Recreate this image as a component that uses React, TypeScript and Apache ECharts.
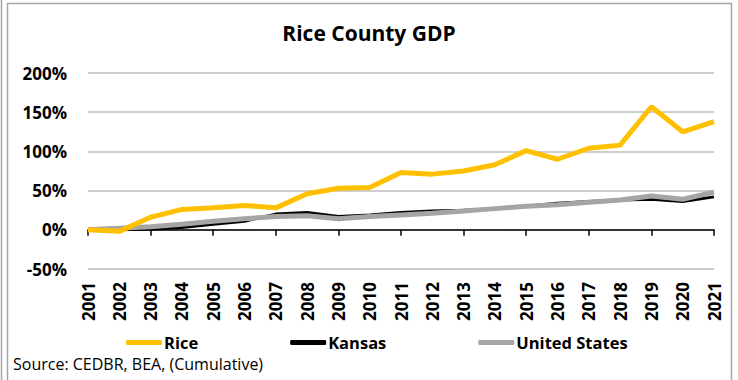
import React, { useEffect, useRef } from "react";
import * as echarts from "echarts";

const years = ["2001","2002","2003","2004","2005","2006","2007","2008","2009","2010","2011","2012","2013","2014","2015","2016","2017","2018","2019","2020","2021"];
const rice = [0, -2, 16, 26, 28, 31, 28, 46, 53, 54, 73, 71, 75, 83, 101, 90, 104, 108, 157, 125, 138];
const kansas = [0, 0, 1, 3, 7, 11, 20, 22, 17, 19, 22, 24, 25, 27, 30, 34, 36, 38, 39, 36, 42];
const unitedStates = [0, 2, 4, 7, 11, 14, 17, 18, 14, 17, 19, 21, 24, 27, 30, 32, 35, 38, 43, 39, 48];
const yTicks = { min: -50, max: 200, interval: 50 };

const FONT = "Open Sans";

export default function App() {
  const ref = useRef<HTMLDivElement>(null);
  useEffect(() => {
    document.body.style.margin = "0";
    const chart = echarts.init(ref.current!, null, { renderer: "svg" });
    chart.setOption({
      animation: false,
      backgroundColor: "#ffffff",
      title: {
        text: "Rice County GDP",
        left: "center",
        top: 17,
        textStyle: { fontFamily: FONT, fontWeight: "bold", fontSize: 21, color: "#000" },
      },
      grid: { left: 88, right: 24, top: 73, bottom: 111, containLabel: false },
      legend: {
        left: 121,
        top: 329,
        itemGap: 92,
        itemWidth: 36,
        itemHeight: 5,
        icon: "roundRect",
        textStyle: {
          fontFamily: FONT,
          fontWeight: "bold",
          fontSize: 16.5,
          lineHeight: 16,
          color: "#000",
          padding: [0, 0, 0, -3],
        },
        data: ["Rice", "Kansas", "United States"],
      },
      xAxis: [
        {
          type: "category",
          data: years,
          boundaryGap: false,
          axisLine: { show: true, onZero: true, lineStyle: { color: "#000", width: 1.5 } },
          axisTick: { show: true, length: 6, lineStyle: { color: "#000", width: 1.5 } },
          axisLabel: { show: false },
          splitLine: { show: false },
        },
        {
          type: "category",
          data: years,
          boundaryGap: false,
          position: "bottom",
          axisLine: { show: false, onZero: false },
          axisTick: { show: false },
          axisLabel: {
            show: true,
            rotate: 90,
            margin: 13,
            interval: 0,
            fontFamily: FONT,
            fontWeight: "bold",
            fontSize: 17,
            color: "#000",
          },
        },
      ],
      yAxis: {
        type: "value",
        min: yTicks.min,
        max: yTicks.max,
        interval: yTicks.interval,
        axisLine: { show: false },
        axisTick: { show: false },
        axisLabel: {
          margin: 21,
          fontFamily: FONT,
          fontWeight: "bold",
          fontSize: 17,
          color: "#000",
          formatter: (v: number) => `${v}%`,
        },
        splitLine: { lineStyle: { color: "#bfbfbf", width: 1.5 } },
      },
      series: [
        {
          name: "Rice",
          type: "line",
          data: rice,
          xAxisIndex: 0,
          symbol: "none",
          color: "#FFC000",
          lineStyle: { width: 5, color: "#FFC000" },
          z: 4,
        },
        {
          name: "Kansas",
          type: "line",
          data: kansas,
          xAxisIndex: 0,
          symbol: "none",
          color: "#000000",
          lineStyle: { width: 3, color: "#000000" },
          z: 2,
        },
        {
          name: "United States",
          type: "line",
          data: unitedStates,
          xAxisIndex: 0,
          symbol: "none",
          color: "#A5A5A5",
          lineStyle: { width: 5, color: "#A5A5A5" },
          z: 3,
        },
      ],
      graphic: [
        {
          type: "rect",
          shape: { x: 7.5, y: 3.5, width: 724, height: 390 },
          style: { fill: "none", stroke: "#a6a6a6", lineWidth: 1.5 },
          silent: true,
          z: -1,
        },
        {
          type: "line",
          shape: { x1: 1.5, y1: 0, x2: 1.5, y2: 380 },
          style: { stroke: "#a6a6a6", lineWidth: 1.5 },
          silent: true,
        },
        {
          type: "text",
          left: 13,
          top: 356,
          style: {
            text: "Source: CEDBR, BEA, (Cumulative)",
            fontFamily: FONT,
            fontSize: 16,
            lineHeight: 16,
            fill: "#000",
          },
        },
      ],
    });
    return () => chart.dispose();
  }, []);
  return <div ref={ref} style={{ width: 738, height: 380 }} />;
}
